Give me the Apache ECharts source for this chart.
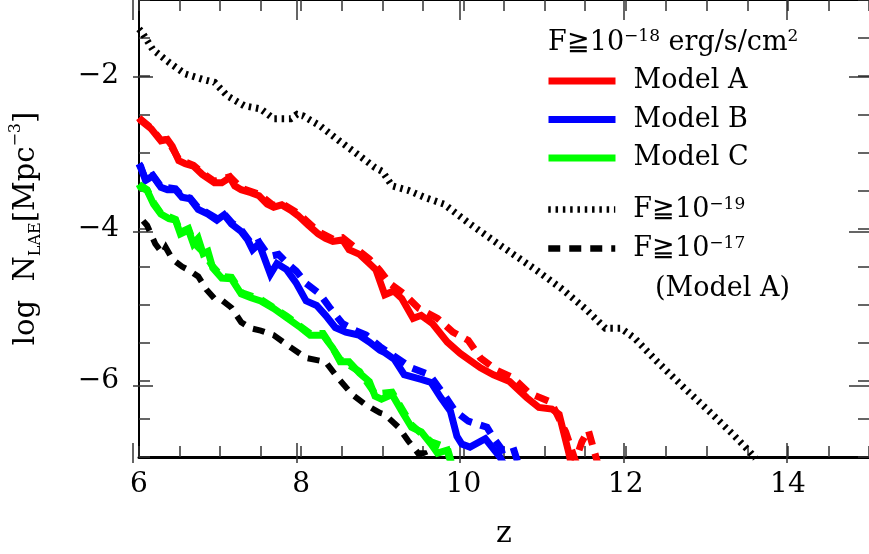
<!DOCTYPE html>
<html><head><meta charset="utf-8">
<script src="https://cdn.jsdelivr.net/npm/echarts@6/dist/echarts.min.js"></script>
<style>html,body{margin:0;padding:0;background:#fff}#c{width:869px;height:554px}</style>
</head><body><div id="c"></div>
<script>
// ---- data: [z, log N_LAE] ----
const modelA_F18 = [[6.0,-2.55],[6.02,-2.58],[6.15,-2.69],[6.27,-2.85],[6.35,-2.83],[6.41,-2.92],[6.49,-3.11],[6.57,-3.15],[6.67,-3.18],[6.78,-3.29],[6.93,-3.40],[7.02,-3.40],[7.12,-3.33],[7.18,-3.44],[7.26,-3.49],[7.38,-3.53],[7.48,-3.57],[7.58,-3.68],[7.66,-3.72],[7.76,-3.69],[7.87,-3.76],[7.96,-3.83],[8.08,-3.95],[8.21,-4.07],[8.30,-4.13],[8.39,-4.17],[8.51,-4.15],[8.59,-4.28],[8.72,-4.34],[8.84,-4.46],[8.92,-4.54],[9.03,-4.87],[9.14,-4.82],[9.24,-4.92],[9.38,-5.18],[9.48,-5.14],[9.62,-5.25],[9.80,-5.49],[9.96,-5.64],[10.08,-5.73],[10.21,-5.83],[10.37,-5.92],[10.57,-6.01],[10.78,-6.22],[10.93,-6.35],[11.09,-6.37],[11.18,-6.44],[11.30,-6.95],[11.35,-7.2]];
const modelA_F18_alt = [[6.0,-2.55],[6.15,-2.68],[6.27,-2.84],[6.35,-2.83],[6.49,-3.09],[6.67,-3.17],[6.78,-3.27],[6.93,-3.38],[7.12,-3.32],[7.26,-3.47],[7.48,-3.55],[7.66,-3.70],[7.76,-3.67],[7.96,-3.80],[8.21,-4.04],[8.39,-4.14],[8.51,-4.12],[8.72,-4.30],[8.84,-4.40],[8.97,-4.55],[9.09,-4.72],[9.27,-4.86],[9.45,-5.05],[9.68,-5.18],[9.87,-5.36],[10.06,-5.47],[10.21,-5.70],[10.41,-5.86],[10.61,-5.96],[10.81,-6.16],[11.08,-6.28],[11.26,-6.67],[11.38,-7.05],[11.46,-6.80],[11.54,-6.65],[11.66,-7.1]];
const modelB_F18 = [[6.0,-3.15],[6.02,-3.18],[6.08,-3.37],[6.17,-3.31],[6.27,-3.46],[6.35,-3.49],[6.45,-3.49],[6.53,-3.59],[6.63,-3.61],[6.73,-3.75],[6.85,-3.81],[6.96,-3.89],[7.05,-3.82],[7.14,-3.94],[7.26,-4.04],[7.34,-4.15],[7.40,-4.28],[7.48,-4.20],[7.54,-4.37],[7.62,-4.60],[7.70,-4.46],[7.82,-4.54],[7.94,-4.72],[8.06,-4.95],[8.19,-5.01],[8.30,-5.14],[8.42,-5.30],[8.55,-5.36],[8.71,-5.40],[8.84,-5.49],[8.97,-5.60],[9.03,-5.63],[9.15,-5.72],[9.27,-5.92],[9.48,-5.98],[9.60,-6.02],[9.72,-6.22],[9.84,-6.40],[9.92,-6.73],[9.98,-6.83],[10.08,-6.87],[10.27,-6.76],[10.45,-7.0],[10.5,-7.1]];
const modelB_F18_alt = [[6.0,-3.15],[6.08,-3.35],[6.17,-3.30],[6.27,-3.45],[6.45,-3.48],[6.53,-3.57],[6.63,-3.60],[6.73,-3.73],[6.85,-3.80],[6.96,-3.87],[7.05,-3.81],[7.14,-3.92],[7.26,-4.02],[7.40,-4.22],[7.48,-4.18],[7.56,-4.30],[7.64,-4.36],[7.72,-4.34],[7.82,-4.45],[7.94,-4.56],[8.06,-4.72],[8.23,-4.86],[8.36,-5.05],[8.51,-5.25],[8.65,-5.33],[8.80,-5.40],[8.97,-5.55],[9.15,-5.68],[9.36,-5.83],[9.58,-5.92],[9.76,-6.18],[9.90,-6.40],[10.06,-6.53],[10.29,-6.61],[10.39,-6.78],[10.48,-6.91],[10.61,-6.87],[10.68,-7.1]];
const modelC_F18 = [[6.0,-3.42],[6.02,-3.46],[6.10,-3.50],[6.18,-3.68],[6.27,-3.81],[6.37,-3.87],[6.45,-3.89],[6.51,-4.07],[6.61,-4.02],[6.67,-4.20],[6.73,-4.13],[6.79,-4.33],[6.85,-4.30],[6.91,-4.52],[7.02,-4.65],[7.14,-4.66],[7.26,-4.86],[7.38,-4.91],[7.50,-4.95],[7.66,-5.05],[7.82,-5.17],[7.99,-5.30],[8.11,-5.40],[8.27,-5.40],[8.39,-5.57],[8.48,-5.75],[8.59,-5.75],[8.72,-5.90],[8.84,-6.01],[8.91,-6.20],[8.99,-6.24],[9.12,-6.18],[9.24,-6.40],[9.36,-6.61],[9.48,-6.67],[9.60,-6.83],[9.68,-6.95],[9.80,-6.91],[9.85,-7.1]];
const modelC_F18_alt = [[6.0,-3.42],[6.10,-3.49],[6.18,-3.66],[6.27,-3.80],[6.45,-3.88],[6.51,-4.05],[6.61,-4.00],[6.67,-4.18],[6.79,-4.31],[6.91,-4.50],[7.02,-4.63],[7.14,-4.64],[7.26,-4.84],[7.50,-4.93],[7.82,-5.15],[8.11,-5.38],[8.27,-5.38],[8.48,-5.72],[8.72,-5.88],[8.91,-6.17],[9.12,-6.15],[9.36,-6.58],[9.60,-6.80],[9.80,-6.88],[9.86,-7.1]];
const modelA_F17 = [[6.05,-3.90],[6.10,-3.96],[6.20,-4.20],[6.29,-4.33],[6.33,-4.25],[6.41,-4.40],[6.53,-4.50],[6.62,-4.55],[6.73,-4.63],[6.83,-4.80],[6.93,-4.92],[7.03,-4.95],[7.14,-5.04],[7.26,-5.23],[7.38,-5.31],[7.50,-5.34],[7.66,-5.40],[7.87,-5.56],[8.06,-5.70],[8.30,-5.75],[8.45,-5.96],[8.63,-6.18],[8.79,-6.31],[8.97,-6.42],[9.03,-6.44],[9.20,-6.61],[9.32,-6.79],[9.44,-6.95],[9.52,-6.95],[9.58,-7.1]];
const modelA_F19 = [[6.0,-1.38],[6.04,-1.43],[6.17,-1.65],[6.37,-1.82],[6.57,-1.97],[6.78,-2.04],[6.93,-2.08],[7.09,-2.26],[7.30,-2.39],[7.50,-2.43],[7.66,-2.56],[7.87,-2.56],[7.95,-2.50],[8.02,-2.52],[8.23,-2.65],[8.47,-2.85],[8.70,-3.03],[8.91,-3.20],[9.0,-3.25],[9.12,-3.44],[9.32,-3.50],[9.52,-3.59],[9.76,-3.68],[10.08,-3.94],[10.48,-4.24],[10.89,-4.54],[11.21,-4.79],[11.50,-5.05],[11.75,-5.31],[11.94,-5.31],[12.11,-5.44],[12.39,-5.75],[12.72,-6.09],[13.03,-6.40],[13.32,-6.70],[13.52,-6.92],[13.6,-7.02]];

const xTickLabels = [6, 8, 10, 12, 14];
const yTickLabels = [-6, -4, -2];
const legendModels = ['Model A', 'Model B', 'Model C'];
const legendFlux = ['F≧10-19', 'F≧10-17'];

const FONT = 'DejaVu Serif';
const X_MIN = 6, X_MAX = 15, Y_MIN = -7, Y_MAX = -1;
const GRID = {left: 133, right: -6.5, top: 0, bottom: 91};
const tickColor = '#333';
const fmt = v => (v < 0 ? '\u2212' + Math.abs(v) : String(v));

function xAx(grid, pos, longTicks, extra) {
  return Object.assign({
    type: 'value', gridIndex: grid, position: pos, min: X_MIN, max: X_MAX,
    interval: 0.5,
    axisLine: {show: !longTicks, lineStyle: {color: '#000', width: pos === 'bottom' ? 3 : 2}},
    axisTick: longTicks
      ? {show: true, inside: true, length: 20, customValues: xTickLabels, lineStyle: {color: tickColor, width: 1.5}}
      : {show: true, inside: true, length: 11, lineStyle: {color: tickColor, width: 1.5}},
    axisLabel: {show: false},
    splitLine: {show: false}
  }, extra || {});
}
function yAx(grid, pos, longTicks, extra) {
  return Object.assign({
    type: 'value', gridIndex: grid, position: pos, min: Y_MIN, max: Y_MAX,
    interval: 0.5,
    axisLine: {show: !longTicks && pos === 'left', lineStyle: {color: '#000', width: 2}},
    axisTick: longTicks
      ? {show: true, inside: true, length: 20, customValues: yTickLabels, lineStyle: {color: tickColor, width: 1.5}}
      : {show: true, inside: true, length: 11, lineStyle: {color: tickColor, width: 1.5}},
    axisLabel: {show: false},
    splitLine: {show: false}
  }, extra || {});
}

const chart = echarts.init(document.getElementById('c'), null, {renderer: 'canvas'});

const line = (name, data, color, width, type, z) => ({
  name, type: 'line', data, xAxisIndex: 0, yAxisIndex: 0,
  symbol: 'none', showSymbol: false, color, z,
  lineStyle: {color, width, type, cap: 'butt', join: 'miter'},
  silent: true, animation: false, clip: true
});

const noSymbol = {color: 'rgba(0,0,0,0)', borderWidth: 0, opacity: 0};

chart.setOption({
  animation: false,
  backgroundColor: '#fff',
  grid: [Object.assign({}, GRID), Object.assign({}, GRID)],
  title: {
    text: 'F≧10{sup|\u221218} erg/s/cm{sup|2}',
    left: 548, top: 28, padding: 0,
    textStyle: {
      fontFamily: FONT, fontSize: 27, fontWeight: 'normal', color: '#000', lineHeight: 30,
      rich: {sup: {fontFamily: FONT, fontSize: 17, lineHeight: 17, verticalAlign: 'top', color: '#000'}}
    }
  },
  legend: [
    {
      data: legendModels, orient: 'vertical', left: 545, top: 67.5, padding: 0,
      itemWidth: 67, itemHeight: 14, itemGap: 11.5,
      lineStyle: {width: 7}, itemStyle: noSymbol, selectedMode: false,
      textStyle: {fontFamily: FONT, fontSize: 27, color: '#000', lineHeight: 27, padding: [0, 0, 0, 13]}
    },
    {
      data: legendFlux, orient: 'vertical', left: 545, top: 196, padding: 0,
      itemWidth: 67, itemHeight: 14, itemGap: 12,
      lineStyle: {width: 6.5}, itemStyle: noSymbol, selectedMode: false,
      formatter: n => n.replace(/10-(\d+)/, '10{sup|\u2212$1}'),
      textStyle: {
        fontFamily: FONT, fontSize: 27, color: '#000', lineHeight: 27, padding: [0, 0, 0, 13],
        rich: {sup: {fontFamily: FONT, fontSize: 17, lineHeight: 17, verticalAlign: 'top', color: '#000'}}
      }
    }
  ],
  graphic: [{
    type: 'text', left: 655, top: 275,
    style: {text: '(Model A)', font: '27px "DejaVu Serif"', fill: '#000'}
  }],
  xAxis: [
    xAx(0, 'bottom', false, {
      axisLabel: {show: true, customValues: xTickLabels, formatter: fmt, margin: 14,
        fontFamily: FONT, fontSize: 28, color: '#000'},
      name: 'z', nameLocation: 'middle', nameGap: 62,
      nameTextStyle: {fontFamily: FONT, fontSize: 30, color: '#000'}
    }),
    xAx(0, 'top', false),
    xAx(1, 'bottom', true),
    xAx(1, 'top', true)
  ],
  yAxis: [
    yAx(0, 'left', false, {
      axisLabel: {show: true, customValues: yTickLabels, formatter: fmt, margin: 20,
        fontFamily: FONT, fontSize: 28, color: '#000'},
      name: 'log  N{sub|LAE}[Mpc{sup|\u22123}]', nameLocation: 'middle', nameGap: 95,
      nameTextStyle: {
        fontFamily: FONT, fontSize: 29, color: '#000', lineHeight: 36,
        rich: {
          sub: {fontFamily: FONT, fontSize: 16, lineHeight: 16, verticalAlign: 'bottom', color: '#000'},
          sup: {fontFamily: FONT, fontSize: 16, lineHeight: 16, verticalAlign: 'top', color: '#000'}
        }
      }
    }),
    yAx(0, 'right', false),
    yAx(1, 'left', true),
    yAx(1, 'right', true)
  ],
  series: [
    line('F≧10-19', modelA_F19, '#000', 7, [2.5, 4.8], 3),
    line('F≧10-17', modelA_F17, '#000', 6, [12, 9], 3),
    line('Model C', modelC_F18, '#00ff00', 7, 'solid', 4),
    line('Model C alt', modelC_F18_alt, '#00ff00', 7, [14, 9], 5),
    line('Model B', modelB_F18, '#0000ff', 7, 'solid', 4),
    line('Model B alt', modelB_F18_alt, '#0000ff', 7, [14, 9], 5),
    line('Model A', modelA_F18, '#ff0000', 7, 'solid', 4),
    line('Model A alt', modelA_F18_alt, '#ff0000', 7, [14, 9], 5)
  ]
});
</script></body></html>
